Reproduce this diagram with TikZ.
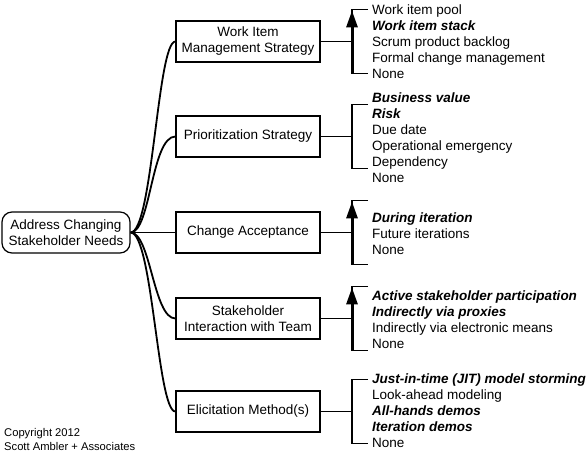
\documentclass[tikz,border=0pt]{standalone}
\usepackage{fontspec}
\setmainfont{Liberation Sans}
\usetikzlibrary{arrows.meta}
\newcommand{\pick}[1]{\textbf{\textit{#1}}}

\begin{document}
\begin{tikzpicture}[x=1pt,y=-1pt,font=\fontsize{13.5}{16}\selectfont,
	goal/.style={draw,rounded corners=10pt,line width=1.2pt,align=center,minimum width=128pt,minimum height=41pt,inner sep=2pt},
	factor/.style={draw,line width=1.2pt,align=center,minimum width=144pt,minimum height=41pt,inner sep=2pt},
	options/.style={anchor=west,align=left,inner sep=0pt},
	twig/.style={line width=1.8pt},
	bracket/.style={line width=1.2pt},
	better/.style={line width=3pt,-{Triangle[width=11pt,length=17pt]}}]
	\useasboundingbox (0,0) rectangle (587,454);
	\node[goal] (goal) at (66,232.5) {Address Changing\\Stakeholder Needs};
	\node[factor] (f1) at (248,41.5) {Work Item\\Management Strategy};
	\node[factor] (f2) at (248,136.5) {Prioritization Strategy};
	\node[factor] (f3) at (248,232.5) {Change Acceptance};
	\node[factor] (f4) at (248,318.5) {Stakeholder\\Interaction with Team};
	\node[factor] (f5) at (248,411.5) {Elicitation Method(s)};
	\draw[twig] (goal.east) .. controls +(22,0) and +(-18,0) .. (f1.west);
	\draw[twig] (goal.east) .. controls +(20,0) and +(-24,0) .. (f2.west);
	\draw[bracket] (goal.east) -- (f3.west);
	\draw[twig] (goal.east) .. controls +(20,0) and +(-22,0) .. (f4.west);
	\draw[twig] (goal.east) .. controls +(22,0) and +(-18,0) .. (f5.west);
	\coordinate (b1) at (352,41.5);
	\coordinate (b2) at (352,136.5);
	\coordinate (b3) at (352,232.5);
	\coordinate (b4) at (352,318.5);
	\coordinate (b5) at (352,411.5);
	\draw[bracket] (f1.east) -- (b1);
	\draw[bracket] (f2.east) -- (b2);
	\draw[bracket] (f3.east) -- (b3);
	\draw[bracket] (f4.east) -- (b4);
	\draw[bracket] (f5.east) -- (b5);
	\draw[bracket] (b1) ++(16,-32) -- ++(-16,0) -- ++(0,64) -- ++(16,0);
	\draw[bracket] (b2) ++(16,-32) -- ++(-16,0) -- ++(0,64) -- ++(16,0);
	\draw[bracket] (b3) ++(16,-32) -- ++(-16,0) -- ++(0,64) -- ++(16,0);
	\draw[bracket] (b4) ++(16,-32) -- ++(-16,0) -- ++(0,64) -- ++(16,0);
	\draw[bracket] (b5) ++(16,-32) -- ++(-16,0) -- ++(0,64) -- ++(16,0);
	\draw[better] (b1) ++(0,32) -- ++(0,-63);
	\draw[better] (b3) ++(0,32) -- ++(0,-63);
	\draw[better] (b4) ++(0,32) -- ++(0,-63);
	\node[options] (o1) at (372,42) {Work item pool\\\pick{Work item stack}\\Scrum product backlog\\Formal change management\\None};
	\node[options] (o2) at (372,137.5) {\pick{Business value}\\\pick{Risk}\\Due date\\Operational emergency\\Dependency\\None};
	\node[options] (o3) at (372,234) {\pick{During iteration}\\Future iterations\\None};
	\node[options] (o4) at (372,320) {\pick{Active stakeholder participation}\\\pick{Indirectly via proxies}\\Indirectly via electronic means\\None};
	\node[options] (o5) at (372,411) {\pick{Just-in-time (JIT) model storming}\\Look-ahead modeling\\\pick{All-hands demos}\\\pick{Iteration demos}\\None};
	\node[anchor=west,align=left,inner sep=0pt,font=\fontsize{11.2}{14}\selectfont] (note) at (4,439) {Copyright 2012\\Scott Ambler + Associates};
\end{tikzpicture}
\end{document}
